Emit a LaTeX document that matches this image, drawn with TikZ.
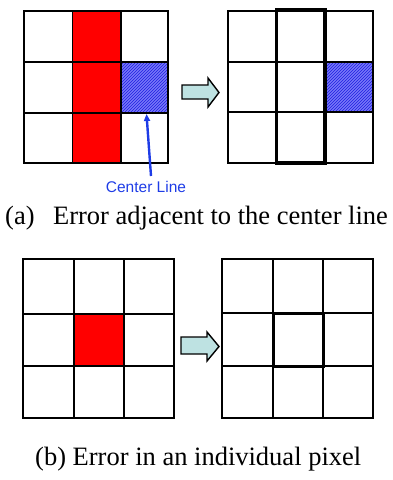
\documentclass[tikz,border=0pt]{standalone}
\usepackage{fontspec}
\setmainfont{Liberation Serif}
\newfontfamily\labelfont{Liberation Sans}
\usepackage{xcolor}
\usepackage{tikz}
\usetikzlibrary{arrows.meta, patterns}

\definecolor{errred}{RGB}{255,0,0}
\definecolor{hatchblue}{RGB}{30,30,225}
\definecolor{hatchback}{RGB}{120,120,248}
\definecolor{labelblue}{RGB}{30,60,230}
\definecolor{arrowfill}{RGB}{190,226,226}

\tikzset{
  gridline/.style={line width=1.4pt, black},
  boldline/.style={line width=3.6pt, black},
  hatched/.style={pattern color=hatchblue, pattern=north east lines},
  fatarrow/.style={fill=arrowfill, draw=black, line width=1.4pt, line join=miter},
  caption/.style={font=\fontsize{26.5}{30}\selectfont, inner sep=0pt},
}

\begin{document}
\begin{tikzpicture}[x=1pt, y=-1pt]
  \useasboundingbox (0,0) rectangle (393,480);
  % ---- (a) left grid ----
  \fill[errred] (72.5,11) rectangle (121,163);
  \fill[hatchback] (121,62) rectangle (168,113);
  \fill[hatched] (121,62) rectangle (168,113);
  \draw[gridline] (24,11) rectangle (168,163);
  \draw[gridline] (72.5,11) -- (72.5,163);
  \draw[gridline] (121,11) -- (121,163);
  \draw[gridline] (24,62) -- (168,62);
  \draw[gridline] (24,113) -- (168,113);
  \draw[line width=2.4pt] (121,62) rectangle (168,113);
  % ---- (a) arrow ----
  \draw[fatarrow] (182,85) -- (208,85) -- (208,78) -- (219,92.5) -- (208,107)
    -- (208,99) -- (182,99) -- cycle;
  % ---- (a) right grid ----
  \fill[hatchback] (325,62) rectangle (373,112);
  \fill[hatched] (325,62) rectangle (373,112);
  \draw[gridline] (228,11) rectangle (373,163);
  \draw[gridline] (228,62) -- (373,62);
  \draw[gridline] (228,112) -- (373,112);
  \draw[line width=2.4pt] (325,62) rectangle (373,112);
  \draw[boldline] (276.5,10) rectangle (325,163);
  % ---- center line label ----
  \node[font=\labelfont\fontsize{15.5}{18}\selectfont, text=labelblue,
    anchor=base, inner sep=1pt] (cl) at (146,192) {Center Line};
  \coordinate (clTail) at (151,176);
  \coordinate (clTip) at (146.5,114);
  \draw[labelblue, line width=2.4pt, -{Triangle[length=7pt, width=6pt]}]
    (clTail) -- (clTip);
  \node[caption, anchor=base west] (capA) at (5,224)
    {(a)\hspace{0.45em} Error adjacent to the center line};
  % ---- (b) left grid ----
  \fill[errred] (74,314) rectangle (124,366);
  \draw[gridline] (23,259) rectangle (174,418);
  \draw[gridline] (74,259) -- (74,418);
  \draw[gridline] (124,259) -- (124,418);
  \draw[gridline] (23,314) -- (174,314);
  \draw[gridline] (23,366) -- (174,366);
  % ---- (b) arrow ----
  \draw[fatarrow] (181,337) -- (207,337) -- (207,332) -- (219,346.5) -- (207,361)
    -- (207,354) -- (181,354) -- cycle;
  % ---- (b) right grid ----
  \draw[gridline] (222,259) rectangle (373,418);
  \draw[gridline] (273,259) -- (273,418);
  \draw[gridline] (323,259) -- (323,418);
  \draw[gridline] (222,313) -- (373,313);
  \draw[gridline] (222,366) -- (373,366);
  \draw[line width=3pt] (273,313) rectangle (323,366);
  \node[caption, anchor=base west] (capB) at (35,465)
    {(b) Error in an individual pixel};
\end{tikzpicture}
\end{document}
